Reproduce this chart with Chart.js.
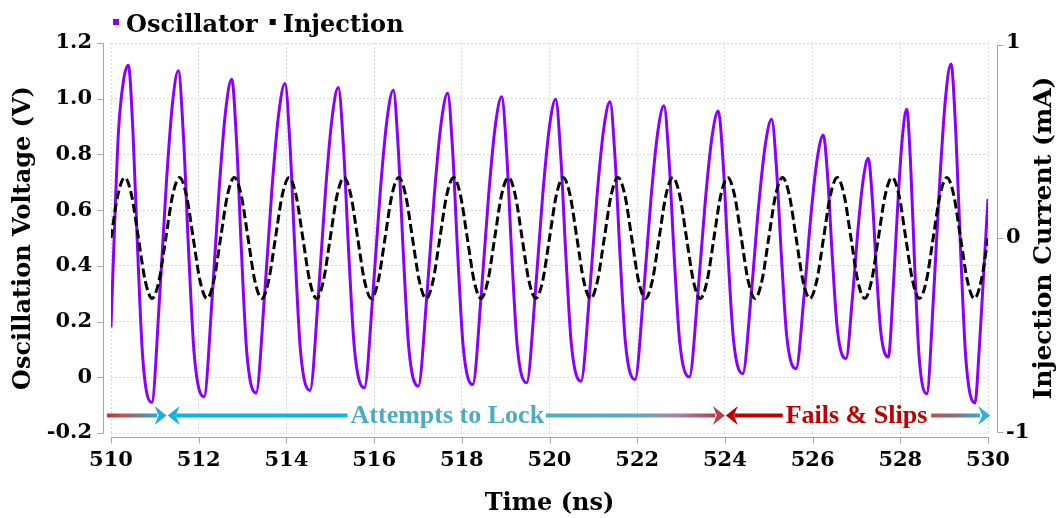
<!DOCTYPE html>
<html>
<head>
<meta charset="utf-8">
<script src="https://cdn.jsdelivr.net/npm/chart.js@4.4.1/dist/chart.umd.min.js"></script>
<style>
html,body{margin:0;padding:0;background:#fff;}
#wrap{width:1058px;height:518px;position:relative;}
canvas{display:block;}
</style>
</head>
<body>
<div id="wrap"><canvas id="c" width="1058" height="518"></canvas></div>
<script>
// ---------------- data ----------------
const seriesLabels = ['Oscillator', 'Injection'];
const xAxisLabel = 'Time (ns)';
const yAxisLabel = 'Oscillation Voltage (V)';
const y1AxisLabel = 'Injection Current (mA)';

// Oscillator voltage (V) vs time (ns)
const oscTime = [
  510.000, 510.090, 510.170, 510.280, 510.395,
  510.502, 510.608, 510.725, 510.928,
  511.110, 511.262, 511.401, 511.535,
  511.652, 511.769, 511.898, 512.121,
  512.311, 512.469, 512.614, 512.753,
  512.864, 512.975, 513.096, 513.307,
  513.505, 513.671, 513.823, 513.968,
  514.082, 514.196, 514.321, 514.538,
  514.732, 514.893, 515.042, 515.184,
  515.303, 515.421, 515.552, 515.777,
  515.975, 516.141, 516.293, 516.438,
  516.552, 516.666, 516.791, 517.008,
  517.209, 517.377, 517.531, 517.678,
  517.792, 517.906, 518.032, 518.249,
  518.447, 518.613, 518.765, 518.910,
  519.024, 519.138, 519.263, 519.480,
  519.678, 519.844, 519.996, 520.141,
  520.256, 520.372, 520.499, 520.718,
  520.917, 521.082, 521.234, 521.380,
  521.494, 521.608, 521.733, 521.950,
  522.148, 522.314, 522.466, 522.611,
  522.726, 522.842, 522.969, 523.188,
  523.387, 523.552, 523.704, 523.850,
  523.961, 524.072, 524.195, 524.406,
  524.604, 524.770, 524.922, 525.067,
  525.178, 525.289, 525.411, 525.622,
  525.809, 525.964, 526.107, 526.244,
  526.348, 526.451, 526.565, 526.762,
  526.914, 527.041, 527.158, 527.270,
  527.361, 527.452, 527.553, 527.726,
  527.852, 527.957, 528.054, 528.146,
  528.237, 528.328, 528.429, 528.602,
  528.768, 528.907, 529.034, 529.156,
  529.265, 529.375, 529.495, 529.703,
  529.800, 529.900, 530.000
];
const oscVolt = [
  0.180, 0.580, 0.880, 1.060, 1.120,
  0.878, 0.454, 0.067, -0.090,
  0.291, 0.695, 0.981, 1.100,
  0.866, 0.456, 0.082, -0.070,
  0.295, 0.682, 0.956, 1.070,
  0.845, 0.451, 0.090, -0.056,
  0.300, 0.677, 0.944, 1.055,
  0.835, 0.449, 0.096, -0.047,
  0.301, 0.670, 0.931, 1.040,
  0.824, 0.447, 0.102, -0.038,
  0.304, 0.667, 0.923, 1.030,
  0.818, 0.446, 0.106, -0.032,
  0.305, 0.662, 0.915, 1.020,
  0.811, 0.445, 0.110, -0.026,
  0.305, 0.656, 0.904, 1.007,
  0.802, 0.442, 0.114, -0.020,
  0.306, 0.652, 0.896, 0.998,
  0.796, 0.441, 0.118, -0.014,
  0.307, 0.648, 0.889, 0.989,
  0.790, 0.441, 0.122, -0.008,
  0.307, 0.641, 0.877, 0.975,
  0.780, 0.439, 0.128, 0.001,
  0.307, 0.631, 0.861, 0.956,
  0.767, 0.437, 0.136, 0.013,
  0.305, 0.616, 0.835, 0.926,
  0.747, 0.434, 0.147, 0.031,
  0.299, 0.585, 0.786, 0.870,
  0.709, 0.428, 0.171, 0.067,
  0.297, 0.542, 0.714, 0.786,
  0.643, 0.394, 0.166, 0.073,
  0.357, 0.660, 0.873, 0.962,
  0.758, 0.400, 0.074, -0.059,
  0.320, 0.722, 1.007, 1.125,
  0.882, 0.456, 0.066, -0.092,
  0.100, 0.370, 0.640
];

// Injection current (mA) vs time (ns)
const injTime = [
  510.000, 510.156, 510.313, 510.469, 510.625, 510.781, 510.938, 511.094,
  511.250, 511.406, 511.563, 511.719, 511.875, 512.031, 512.188, 512.344,
  512.500, 512.656, 512.813, 512.969, 513.125, 513.281, 513.438, 513.594,
  513.750, 513.906, 514.063, 514.219, 514.375, 514.531, 514.688, 514.844,
  515.000, 515.156, 515.313, 515.469, 515.625, 515.781, 515.938, 516.094,
  516.250, 516.406, 516.563, 516.719, 516.875, 517.031, 517.188, 517.344,
  517.500, 517.656, 517.813, 517.969, 518.125, 518.281, 518.438, 518.594,
  518.750, 518.906, 519.063, 519.219, 519.375, 519.531, 519.688, 519.844,
  520.000, 520.156, 520.313, 520.469, 520.625, 520.781, 520.938, 521.094,
  521.250, 521.406, 521.563, 521.719, 521.875, 522.031, 522.188, 522.344,
  522.500, 522.656, 522.813, 522.969, 523.125, 523.281, 523.438, 523.594,
  523.750, 523.906, 524.063, 524.219, 524.375, 524.531, 524.688, 524.844,
  525.000, 525.156, 525.313, 525.469, 525.625, 525.781, 525.938, 526.094,
  526.250, 526.406, 526.563, 526.719, 526.875, 527.031, 527.188, 527.344,
  527.500, 527.656, 527.813, 527.969, 528.125, 528.281, 528.438, 528.594,
  528.750, 528.906, 529.063, 529.219, 529.375, 529.531, 529.688, 529.844,
  530.000
];
const injCurrent = [
  0, 0.22, 0.31, 0.22, 0, -0.22, -0.31, -0.22,
  0, 0.22, 0.31, 0.22, 0, -0.22, -0.31, -0.22,
  0, 0.22, 0.31, 0.22, 0, -0.22, -0.31, -0.22,
  0, 0.22, 0.31, 0.22, 0, -0.22, -0.31, -0.22,
  0, 0.22, 0.31, 0.22, 0, -0.22, -0.31, -0.22,
  0, 0.22, 0.31, 0.22, 0, -0.22, -0.31, -0.22,
  0, 0.22, 0.31, 0.22, 0, -0.22, -0.31, -0.22,
  0, 0.22, 0.31, 0.22, 0, -0.22, -0.31, -0.22,
  0, 0.22, 0.31, 0.22, 0, -0.22, -0.31, -0.22,
  0, 0.22, 0.31, 0.22, 0, -0.22, -0.31, -0.22,
  0, 0.22, 0.31, 0.22, 0, -0.22, -0.31, -0.22,
  0, 0.22, 0.31, 0.22, 0, -0.22, -0.31, -0.22,
  0, 0.22, 0.31, 0.22, 0, -0.22, -0.31, -0.22,
  0, 0.22, 0.31, 0.22, 0, -0.22, -0.31, -0.22,
  0, 0.22, 0.31, 0.22, 0, -0.22, -0.31, -0.22,
  0, 0.22, 0.31, 0.22, 0, -0.22, -0.31, -0.22,
  0
];

// phase annotation labels and their time marks (ns)
const phaseLabels = ['Attempts to Lock', 'Fails & Slips'];
const phaseStart = 509.91;
const phaseSwitch = 524.01;
const lockMeet = 511.28;
const phaseEnd = 530.05;
const phaseTextCenters = [517.67, 527.0];
const phaseLevel = -0.137; // on the voltage axis

// ---------------- chart ----------------
const FONT = "'DejaVu Serif', 'Liberation Serif', serif";
Chart.defaults.font.family = FONT;
Chart.defaults.font.weight = 'bold';
Chart.defaults.color = '#000';

const oscPoints = oscTime.map((t, i) => ({x: t, y: oscVolt[i]}));
const injPoints = injTime.map((t, i) => ({x: t, y: injCurrent[i]}));

function arrowHead(ctx, tipX, y, dir, color) {
  const L = 12, H = 9.5, N = 8;
  ctx.fillStyle = color;
  ctx.beginPath();
  ctx.moveTo(tipX, y);
  ctx.lineTo(tipX - dir * L, y - H);
  ctx.lineTo(tipX - dir * N, y);
  ctx.lineTo(tipX - dir * L, y + H);
  ctx.closePath();
  ctx.fill();
}
function seg(ctx, x0, x1, y, style) {
  ctx.strokeStyle = style;
  ctx.lineWidth = 4;
  ctx.lineCap = 'butt';
  ctx.beginPath();
  ctx.moveTo(x0, y);
  ctx.lineTo(x1, y);
  ctx.stroke();
}
function grad(ctx, x0, x1, stops) {
  const g = ctx.createLinearGradient(x0, 0, x1, 0);
  stops.forEach(s => g.addColorStop(s[0], s[1]));
  return g;
}

const overlay = {
  id: 'overlay',
  afterDatasetsDraw(chart) {
    const {ctx, scales: {x, y}} = chart;
    const ay = y.getPixelForValue(phaseLevel);
    const px = v => x.getPixelForValue(v);
    ctx.save();
    ctx.font = "bold 26px 'Liberation Serif', 'Times New Roman', serif";
    ctx.textAlign = 'center';
    ctx.textBaseline = 'alphabetic';

    const s0 = px(phaseStart), m1 = px(lockMeet), m2 = px(phaseSwitch), e = px(phaseEnd);
    // lock phase
    seg(ctx, s0, m1 - 10, ay, grad(ctx, s0, m1 - 10, [[0, '#c8302a'], [0.3, '#c0504d'], [1, '#2ba8d6']]));
    arrowHead(ctx, m1 - 0.5, ay, 1, '#2ba8d6');
    arrowHead(ctx, m1 + 0.5, ay, -1, '#0fb0ec');
    const c1 = px(phaseTextCenters[0]);
    const w1 = ctx.measureText(phaseLabels[0]).width;
    seg(ctx, m1 + 9, c1 - w1 / 2 - 3, ay, '#0fb0ec');
    ctx.fillStyle = '#4bacc6';
    ctx.fillText(phaseLabels[0], c1, ay + 8);
    seg(ctx, c1 + w1 / 2 + 2, m2 - 10, ay,
        grad(ctx, c1 + w1 / 2 + 2, m2 - 10, [[0, '#4bacc6'], [0.45, '#52acc8'], [0.75, '#9c8cb4'], [1, '#b8404e']]));
    arrowHead(ctx, m2 - 0.5, ay, 1, '#b8404e');
    // fail phase
    arrowHead(ctx, m2 + 0.5, ay, -1, '#c00000');
    const c2 = px(phaseTextCenters[1]);
    const w2 = ctx.measureText(phaseLabels[1]).width;
    seg(ctx, m2 + 9, c2 - w2 / 2 - 3, ay, '#c00000');
    ctx.fillStyle = '#c00000';
    ctx.fillText(phaseLabels[1], c2, ay + 8);
    seg(ctx, c2 + w2 / 2 + 4, e - 10, ay, grad(ctx, c2 + w2 / 2 + 4, e - 10, [[0, '#c0504d'], [0.5, '#8a6f80'], [1, '#30b0d8']]));
    arrowHead(ctx, e, ay, 1, '#30b0d8');
    ctx.restore();
  },
  afterDraw(chart) {
    const {ctx, chartArea: ca, scales: {x, y, y1}} = chart;
    ctx.save();
    // offset axis lines with outward ticks
    ctx.strokeStyle = '#a6a6a6';
    ctx.lineWidth = 1;
    ctx.beginPath();
    const lx = Math.round(ca.left - 8) + 0.5;
    ctx.moveTo(lx, y.getPixelForValue(y.max));
    ctx.lineTo(lx, y.getPixelForValue(y.min) + 1);
    y.ticks.forEach(t => {
      const p = Math.round(y.getPixelForValue(t.value)) + 0.5;
      ctx.moveTo(lx - 6, p); ctx.lineTo(lx, p);
    });
    const rx = Math.round(ca.right + 9) + 0.5;
    ctx.moveTo(rx, y1.getPixelForValue(y1.max) + 2);
    ctx.lineTo(rx, y1.getPixelForValue(y1.min) - 1);
    y1.ticks.forEach(t => {
      let p = Math.round(y1.getPixelForValue(t.value)) + 0.5;
      if (t.value === 1) p += 2;
      if (t.value === -1) p -= 1;
      ctx.moveTo(rx, p); ctx.lineTo(rx + 6, p);
    });
    const by = Math.round(ca.bottom + 4) + 0.5;
    ctx.moveTo(x.getPixelForValue(x.min), by);
    ctx.lineTo(x.getPixelForValue(x.max) + 1, by);
    x.ticks.forEach(t => {
      const p = Math.round(x.getPixelForValue(t.value)) + 0.5;
      ctx.moveTo(p, by); ctx.lineTo(p, by + 6);
    });
    ctx.stroke();

    // right axis title (reads bottom to top)
    ctx.fillStyle = '#000';
    ctx.font = 'bold 25px ' + FONT;
    ctx.textAlign = 'center';
    ctx.textBaseline = 'middle';
    ctx.translate(1044, (ca.top + ca.bottom) / 2);
    ctx.rotate(-Math.PI / 2);
    ctx.fillText(y1AxisLabel, 0, 0);
    ctx.setTransform(1, 0, 0, 1, 0, 0);

    // legend
    ctx.font = 'bold 24px ' + FONT;
    ctx.textAlign = 'left';
    ctx.textBaseline = 'alphabetic';
    let lxp = 113;
    chart.data.datasets.forEach(ds => {
      ctx.fillStyle = ds.borderColor;
      ctx.fillRect(lxp, 19, 6, 6);
      ctx.fillStyle = '#000';
      ctx.fillText(ds.label, lxp + 13, 32);
      lxp += 13 + ctx.measureText(ds.label).width + 12;
    });
    ctx.restore();
  }
};

new Chart(document.getElementById('c'), {
  type: 'line',
  data: {
    datasets: [
      {
        label: seriesLabels[0],
        data: oscPoints,
        yAxisID: 'y',
        borderColor: '#8a00ff',
        backgroundColor: '#8a00ff',
        borderWidth: 3,
        pointRadius: 0,
        cubicInterpolationMode: 'monotone',
        order: 1
      },
      {
        label: seriesLabels[1],
        data: injPoints,
        yAxisID: 'y1',
        borderColor: '#000000',
        backgroundColor: '#000000',
        borderWidth: 3,
        borderDash: [9, 4],
        pointRadius: 0,
        cubicInterpolationMode: 'monotone',
        order: 0
      }
    ]
  },
  options: {
    responsive: false,
    animation: false,
    devicePixelRatio: 1,
    layout: {padding: {top: 43, left: 0, right: 0, bottom: 0}},
    plugins: {legend: {display: false}, tooltip: {enabled: false}},
    scales: {
      x: {
        type: 'linear',
        min: 510, max: 530,
        afterFit: s => { s.height = 85; },
        ticks: {stepSize: 2, font: {size: 21, weight: 'bold'}, padding: 15, maxRotation: 0},
        grid: {color: '#d9d9d9', drawTicks: false, lineWidth: 1},
        border: {display: false, dash: [2, 2]},
        title: {display: true, text: xAxisLabel, font: {size: 24, weight: 'bold'}, padding: {top: 0, bottom: 0}}
      },
      y: {
        position: 'left',
        min: -0.2, max: 1.2,
        afterFit: s => { s.width = 111; },
        ticks: {
          stepSize: 0.2,
          font: {size: 21, weight: 'bold'},
          padding: 19,
          callback: v => Math.abs(v) < 1e-9 ? '0' : v.toFixed(1)
        },
        grid: {color: '#d9d9d9', drawTicks: false, lineWidth: 1},
        border: {display: false, dash: [2, 2]},
        title: {display: true, text: yAxisLabel, font: {size: 24, weight: 'bold'}, padding: {top: 9, bottom: 0}}
      },
      y1: {
        position: 'right',
        min: -1, max: 1,
        afterFit: s => { s.width = 70; },
        ticks: {stepSize: 1, font: {size: 21, weight: 'bold'}, padding: 18},
        grid: {display: false, drawTicks: false},
        border: {display: false}
      }
    }
  },
  plugins: [overlay]
});
</script>
</body>
</html>
